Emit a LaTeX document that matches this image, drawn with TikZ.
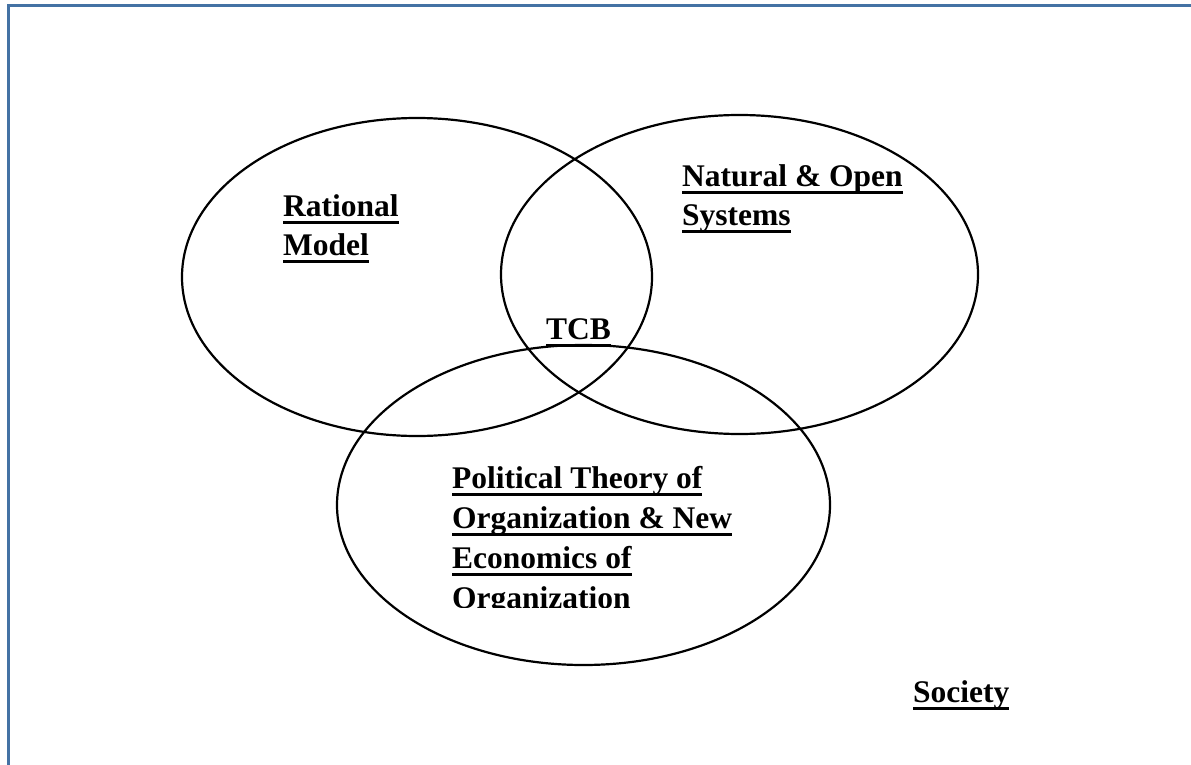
\documentclass[tikz,border=0pt]{standalone}
\usepackage{fontspec}
\setmainfont{Liberation Serif}
\definecolor{framecol}{RGB}{68,114,164}
% bold text with a heavy underline set just below the baseline
\newcommand{\heavyul}[1]{\setbox0\hbox{#1}\rlap{\vrule width\wd0 height -4.5pt depth 7.5pt}\box0}
\tikzset{
  lbl/.style={anchor=base west, inner sep=0pt, font=\fontsize{31.5}{39}\selectfont\bfseries},
  ring/.style={draw=black, line width=2.2pt},
}
\begin{document}
\begin{tikzpicture}[x=1pt,y=-1pt]
\useasboundingbox (0,0) rectangle (1191,765);
% page frame (top and left edges)
\draw[framecol, line width=3pt] (8.8,765) -- (8.8,5.8) -- (1191,5.8);
% the three overlapping sets
\draw[ring] (417,277) ellipse [x radius=235pt, y radius=159pt];
\draw[ring] (739.5,274.5) ellipse [x radius=238.5pt, y radius=159.5pt];
\draw[ring] (583.5,505) ellipse [x radius=246.5pt, y radius=160pt];
% labels
\node[lbl] (rat1) at (283,216) {\heavyul{Rational}};
\node[lbl] (rat2) at (283,255) {\heavyul{Model}};
\node[lbl] (nat1) at (682,186) {\heavyul{Natural \& Open}};
\node[lbl] (nat2) at (682,225) {\heavyul{Systems}};
\node[lbl] (tcb) at (546,339) {\heavyul{TCB}};
\node[lbl] (pol1) at (452,488) {\heavyul{Political Theory of}};
\node[lbl] (pol2) at (452,528) {\heavyul{Organization \& New}};
\node[lbl] (pol3) at (452,568) {\heavyul{Economics of}};
\begin{scope}
  \clip (0,0) rectangle (1191,607);
  \node[lbl] (pol4) at (452,608) {Organization};
\end{scope}
\node[lbl] (soc) at (913,702) {\heavyul{Society}};
\end{tikzpicture}
\end{document}
